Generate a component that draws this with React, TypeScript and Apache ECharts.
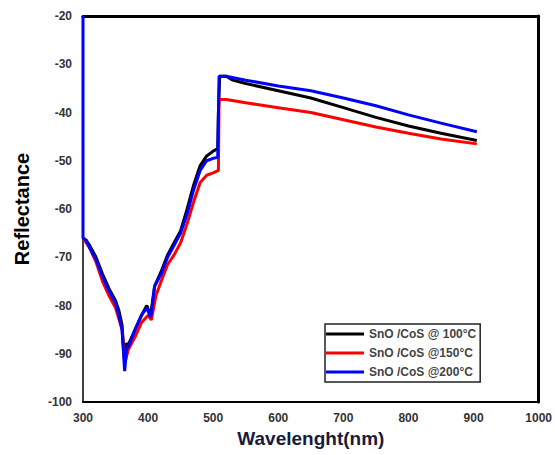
import React, { useEffect, useRef } from "react";
import * as echarts from "echarts";

const xTicks = [300, 400, 500, 600, 700, 800, 900, 1000];
const yTicks = [-100, -90, -80, -70, -60, -50, -40, -30, -20];
const seriesNames = ["SnO /CoS @ 100°C", "SnO /CoS @150°C", "SnO /CoS @200°C"];
const seriesColors = ["#000000", "#ff0000", "#0000ff"];

const wl100 = [300, 305, 310, 320, 330, 340, 350, 355, 360, 363, 366, 370, 380, 390, 398, 404, 410, 420, 430, 440, 450, 460, 470, 480, 490, 500, 507, 508, 510, 520, 530, 550, 600, 650, 700, 750, 800, 850, 905];
const r100 = [-66, -66.5, -67.5, -70, -73.5, -76.5, -79, -81, -84, -90, -88, -88, -85, -82, -80, -82, -76, -73, -69.5, -67, -64.5, -60, -55, -51, -49, -48, -47.5, -40, -32.5, -32.5, -33.3, -34, -35.5, -37, -39, -41, -42.8, -44.3, -45.8];

const wl150 = [300, 310, 320, 330, 340, 350, 360, 364, 370, 380, 390, 400, 405, 412, 420, 430, 440, 450, 460, 470, 480, 490, 500, 508, 509, 520, 550, 600, 650, 700, 750, 800, 850, 905];
const r150 = [-66, -68, -71, -75, -78, -80.5, -85, -92, -89, -86.5, -83.5, -82, -83, -78, -75, -71.5, -69.5, -67, -63, -58.5, -54.5, -53, -52.5, -52, -37.3, -37.3, -38, -39, -40, -41.5, -43, -44.3, -45.5, -46.5];

const wl200 = [300, 300, 305, 310, 320, 330, 340, 350, 355, 360, 364, 367, 370, 380, 390, 398, 404, 410, 420, 430, 440, 450, 460, 470, 480, 490, 500, 507, 509, 520, 550, 600, 650, 700, 750, 800, 850, 905];
const r200 = [-20, -66, -66.5, -68, -70.5, -74, -77, -79.5, -82, -85, -93.6, -89, -88.5, -85, -82, -80.5, -82.5, -76, -73.5, -70, -67.5, -65, -61, -56, -52, -50, -49.5, -49.3, -32.5, -32.5, -33.3, -34.5, -35.5, -37, -38.6, -40.5, -42.2, -44];

const xs = [wl100, wl150, wl200];
const ys = [r100, r150, r200];

export default function App() {
  const ref = useRef<HTMLDivElement>(null);
  useEffect(() => {
    if (!ref.current) return;
    const chart = echarts.init(ref.current, null, { renderer: "svg" });
    const font = "Liberation Sans, Arial, sans-serif";
    const labelStyle = { fontFamily: font, fontWeight: "bold" as const, fontSize: 12, color: "#333" };
    chart.setOption({
      animation: false,
      backgroundColor: "#ffffff",
      grid: { left: 83, right: 13, top: 16, bottom: 53 },
      xAxis: [
        {
          type: "value",
          min: xTicks[0],
          max: xTicks[xTicks.length - 1],
          interval: 100,
          name: "Wavelenght(nm)",
          nameLocation: "middle",
          nameGap: 25,
          nameTextStyle: { fontFamily: font, fontWeight: "bold", fontSize: 19, color: "#1a1a3a" },
          axisLine: { lineStyle: { color: "#000", width: 2 } },
          axisTick: { show: false },
          splitLine: { show: false },
          axisLabel: { ...labelStyle, margin: 10, formatter: (v: number) => String(v) },
        },
        {
          type: "value",
          position: "top",
          min: xTicks[0],
          max: xTicks[xTicks.length - 1],
          axisLine: { show: true, onZero: false, lineStyle: { color: "#000", width: 3 } },
          axisTick: { show: false },
          axisLabel: { show: false },
          splitLine: { show: false },
        },
      ],
      yAxis: [
        {
          type: "value",
          min: yTicks[0],
          max: yTicks[yTicks.length - 1],
          interval: 10,
          name: "Reflectance",
          nameLocation: "middle",
          nameGap: 51,
          nameRotate: 90,
          nameTextStyle: { fontFamily: font, fontWeight: "bold", fontSize: 20, color: "#000" },
          axisLine: { show: true, onZero: false, lineStyle: { color: "#000", width: 1.5 } },
          axisTick: { show: false },
          splitLine: { show: false },
          axisLabel: { ...labelStyle, margin: 11, formatter: (v: number) => String(v) },
        },
        {
          type: "value",
          position: "right",
          min: yTicks[0],
          max: yTicks[yTicks.length - 1],
          axisLine: { show: true, onZero: false, lineStyle: { color: "#000", width: 3 } },
          axisTick: { show: false },
          axisLabel: { show: false },
          splitLine: { show: false },
        },
      ],
      legend: {
        orient: "vertical",
        left: 325,
        top: 324,
        width: 170,
        data: seriesNames,
        icon: "rect",
        itemWidth: 38,
        itemHeight: 3,
        itemGap: 7,
        padding: [4, 4, 4, 1],
        backgroundColor: "#fff",
        borderColor: "#222",
        borderWidth: 1.5,
        borderRadius: 0,
        textStyle: { fontFamily: font, fontWeight: "bold", fontSize: 12, color: "#444" },
      },
      series: seriesNames.map((name, i) => ({
        name,
        type: "line",
        xAxisIndex: 0,
        yAxisIndex: 0,
        showSymbol: false,
        symbol: "none",
        color: seriesColors[i],
        lineStyle: { color: seriesColors[i], width: 3 },
        data: xs[i].map((x, j) => [x, ys[i][j]]),
        z: 2 + i,
      })),
    });
    return () => chart.dispose();
  }, []);
  return <div ref={ref} style={{ width: 555, height: 455, position: "absolute", left: 0, top: 0 }} />;
}
